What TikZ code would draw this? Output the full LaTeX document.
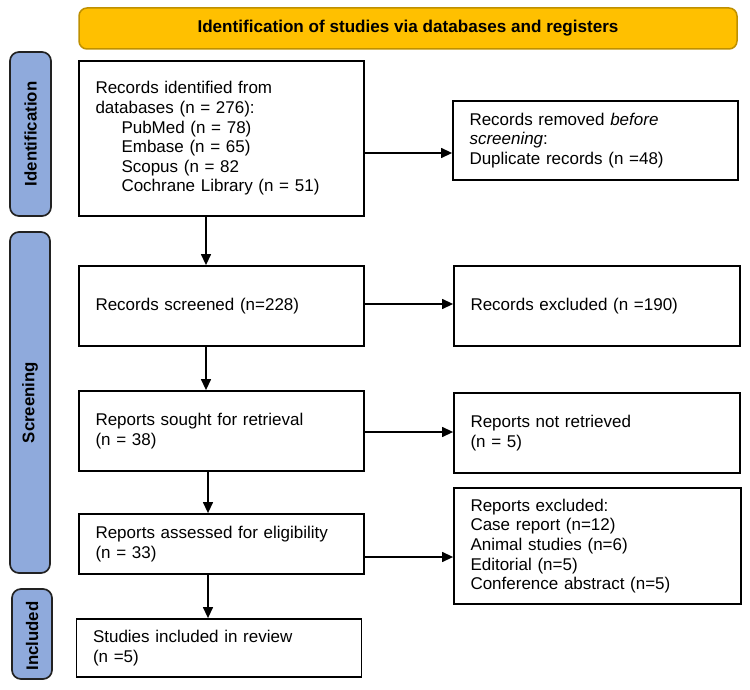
\documentclass[tikz,border=0pt]{standalone}
\usepackage{fontspec}
\setmainfont{Liberation Sans}
\usetikzlibrary{arrows.meta}
\definecolor{bannerfill}{HTML}{FFC000}
\definecolor{bannerline}{HTML}{BF9000}
\definecolor{phasefill}{HTML}{8FAADC}
\definecolor{phaseline}{HTML}{222222}
\tikzset{
  stagebox/.style={draw=black, line width=1.8pt, fill=white, rectangle,
    inner xsep=16.5pt, inner ysep=0pt, align=left,
    font=\fontsize{17}{19.6}\selectfont, anchor=center},
  phasebar/.style={draw=phaseline, line width=1.7pt, fill=phasefill,
    rounded corners=9pt},
  phaselabel/.style={rotate=90, font=\bfseries\fontsize{16.8}{19}\selectfont, anchor=center},
  arr/.style={line width=1.3pt, -{Triangle[length=11pt,width=10pt]}},
}
\begin{document}
\begin{tikzpicture}[x=1pt,y=-1pt]
\useasboundingbox (0,0) rectangle (750,690);
% banner
\node[draw=bannerline, line width=1.5pt, fill=bannerfill, rounded corners=8pt,
  minimum width=658pt, minimum height=41pt, inner sep=0pt,
  font=\bfseries\fontsize{17.1}{20}\selectfont] (banner) at (408,28.5)
  {Identification of studies via databases and registers};
% phase bars
\draw[phasebar] (10,52) rectangle (51,216);
\node[phaselabel] (lid) at (30.5,134) {Identification};
\draw[phasebar] (10,232) rectangle (50,573);
\node[phaselabel] (lsc) at (30,402.5) {Screening};
\draw[phasebar] (12,589) rectangle (52,679);
\node[phaselabel] (lin) at (32,636) {Included};
% boxes
\node[stagebox, text width=252pt, minimum height=155pt] (ident) at (221.5,138.5)
  {Records identified from\\databases (n = 276):\\
   \hspace*{26pt}PubMed (n = 78)\\
   \hspace*{26pt}Embase (n = 65)\\
   \hspace*{26pt}Scopus (n = 82\\
   \hspace*{26pt}Cochrane Library (n = 51)};
\node[stagebox, text width=252pt, minimum height=79pt] (removed) at (595.5,140.5)
  {Records removed \textit{before}\\\textit{screening}:\\Duplicate records (n =48)};
\node[stagebox, text width=252pt, minimum height=80pt] (screened) at (221.5,306)
  {Records screened (n=228)};
\node[stagebox, text width=253pt, minimum height=80pt] (excluded) at (597,306)
  {Records excluded (n =190)};
\node[stagebox, text width=252pt, minimum height=80pt] (sought) at (221.5,431)
  {Reports sought for retrieval\\(n = 38)};
\node[stagebox, text width=253pt, minimum height=80pt] (notret) at (597,433)
  {Reports not retrieved\\(n = 5)};
\node[stagebox, text width=252pt, minimum height=60pt] (assessed) at (221.5,544)
  {Reports assessed for eligibility\\(n = 33)};
\node[stagebox, text width=254pt, minimum height=116pt] (repexcl) at (597.5,546)
  {Reports excluded:\\Case report (n=12)\\Animal studies (n=6)\\Editorial (n=5)\\Conference abstract (n=5)};
\node[stagebox, text width=252pt, minimum height=58pt] (included) at (219,648)
  {Studies included in review\\(n =5)};
% connector guides
\coordinate (xa) at (206,0);
\coordinate (xb) at (208,0);
\coordinate (ya) at (0,153);
\coordinate (yb) at (0,304);
\coordinate (yc) at (0,432);
\coordinate (yd) at (0,557);
% vertical arrows
\draw[arr] (ident.south -| xa) -- (screened.north -| xa);
\draw[arr] (screened.south -| xa) -- (sought.north -| xa);
\draw[arr] (sought.south -| xb) -- (assessed.north -| xb);
\draw[arr] (assessed.south -| xb) -- (included.north -| xb);
% horizontal arrows
\draw[arr] (ident.east |- ya) -- (removed.west |- ya);
\draw[arr] (screened.east |- yb) -- (excluded.west |- yb);
\draw[arr] (sought.east |- yc) -- (notret.west |- yc);
\draw[arr] (assessed.east |- yd) -- (repexcl.west |- yd);
\end{tikzpicture}
\end{document}
